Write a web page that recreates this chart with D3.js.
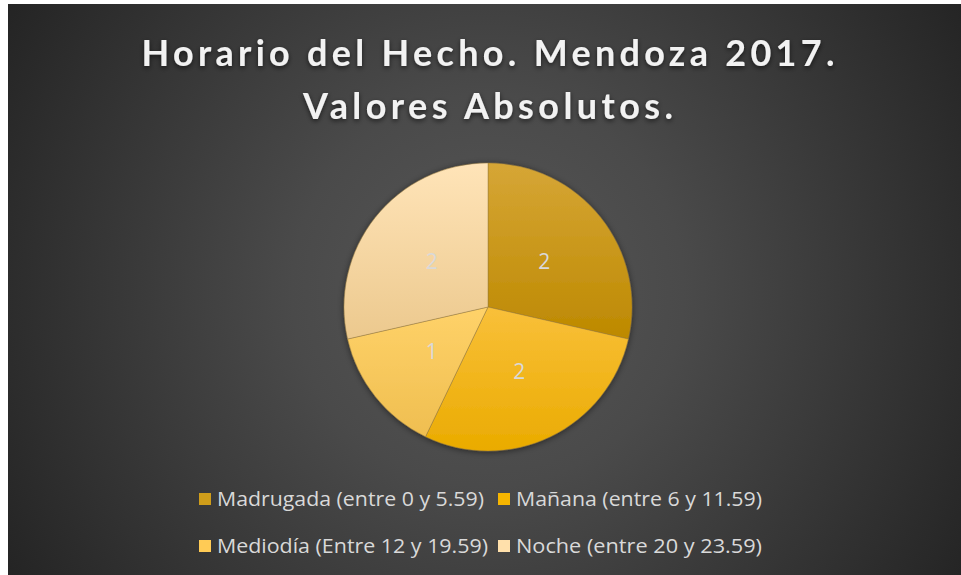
<!DOCTYPE html>
<html>
<head>
<meta charset="utf-8">
<script src="https://cdn.jsdelivr.net/npm/d3@7"></script>
<style>
  html, body { margin: 0; padding: 0; background: #fff; }
  svg { display: block; }
</style>
</head>
<body>
<div id="chart"></div>
<script>
const titleLines = ["Horario del Hecho. Mendoza 2017.", "Valores Absolutos."];
const categories = [
  "Madrugada (entre 0 y 5.59)",
  "Mañana (entre 6 y 11.59)",
  "Mediodía (Entre 12 y 19.59)",
  "Noche (entre 20 y 23.59)"
];
const values = [2, 2, 1, 2];
const colorTop = ["#d6a636", "#f9c03a", "#ffd269", "#ffe4b8"];
const colorBottom = ["#bd8900", "#eaab00", "#efbe50", "#ecc98e"];
const legendColors = ["#cf9d1a", "#f6b500", "#ffcb55", "#ffe0ab"];

(function () {
  const width = 961, height = 575;
  const box = { x: 8, y: 4, w: 953, h: 571 };
  const center = { x: 488, y: 307 };
  const radius = 144;

  const svg = d3.select("#chart").append("svg")
    .attr("width", width)
    .attr("height", height);

  const defs = svg.append("defs");

  const bg = defs.append("radialGradient")
    .attr("id", "bg")
    .attr("gradientUnits", "userSpaceOnUse")
    .attr("cx", 488).attr("cy", 290).attr("r", 560);
  bg.append("stop").attr("offset", "0").attr("stop-color", "#575757");
  bg.append("stop").attr("offset", "0.35").attr("stop-color", "#4a4a4a");
  bg.append("stop").attr("offset", "1").attr("stop-color", "#242424");

  categories.forEach((c, i) => {
    const g = defs.append("linearGradient")
      .attr("id", "slice" + i)
      .attr("x1", 0).attr("y1", 0).attr("x2", 0).attr("y2", 1);
    g.append("stop").attr("offset", "0").attr("stop-color", colorTop[i]);
    g.append("stop").attr("offset", "1").attr("stop-color", colorBottom[i]);
  });

  const shadow = defs.append("filter").attr("id", "shadow")
    .attr("x", "-20%").attr("y", "-20%").attr("width", "140%").attr("height", "140%");
  shadow.append("feDropShadow")
    .attr("dx", 0).attr("dy", 2).attr("stdDeviation", 2.5)
    .attr("flood-color", "#000").attr("flood-opacity", 0.6);

  const pieShadow = defs.append("filter").attr("id", "pieShadow")
    .attr("x", "-20%").attr("y", "-20%").attr("width", "140%").attr("height", "140%");
  pieShadow.append("feDropShadow")
    .attr("dx", 0).attr("dy", 1).attr("stdDeviation", 3)
    .attr("flood-color", "#000").attr("flood-opacity", 0.5);

  svg.append("rect")
    .attr("x", box.x).attr("y", box.y)
    .attr("width", box.w).attr("height", box.h)
    .attr("fill", "url(#bg)");

  // title
  const titleWidths = [693, 370];
  svg.append("g").selectAll("text")
    .data(titleLines)
    .join("text")
    .attr("x", 488)
    .attr("y", (d, i) => 66 + i * 53)
    .attr("text-anchor", "middle")
    .attr("textLength", (d, i) => titleWidths[i])
    .attr("lengthAdjust", "spacing")
    .attr("font-family", "Lato, 'Open Sans', sans-serif")
    .attr("font-weight", "bold")
    .attr("font-size", 36)
    .attr("fill", "#f2f2f2")
    .attr("filter", "url(#shadow)")
    .text(d => d);

  // pie
  const pie = d3.pie().sort(null).value(d => d);
  const arcs = pie(values);
  const arc = d3.arc().innerRadius(0).outerRadius(radius);

  const g = svg.append("g")
    .attr("transform", `translate(${center.x},${center.y})`);

  g.append("g")
    .attr("filter", "url(#pieShadow)")
    .selectAll("path")
    .data(arcs)
    .join("path")
    .attr("d", arc)
    .attr("fill", (d, i) => `url(#slice${i})`)
    .attr("stroke", "rgba(150,120,60,0.6)")
    .attr("stroke-width", 0.75);

  g.selectAll(".slice-label")
    .data(arcs)
    .join("text")
    .attr("class", "slice-label")
    .attr("transform", d => `translate(${arc.centroid(d)})`)
    .attr("text-anchor", "middle")
    .attr("dy", "0.35em")
    .attr("font-family", "'Open Sans', 'DejaVu Sans', sans-serif")
    .attr("font-size", 21)
    .attr("fill", "#d9d9d9")
    .text(d => d.data);

  // legend
  const colX = [199, 498];
  const rowY = [499, 546];
  const textWidths = [267, 246, 271, 246];
  const legend = svg.append("g")
    .selectAll("g")
    .data(categories)
    .join("g")
    .attr("transform", (d, i) => `translate(${colX[i % 2]},${rowY[Math.floor(i / 2)]})`);

  legend.append("rect")
    .attr("x", 0).attr("y", -6)
    .attr("width", 12).attr("height", 12)
    .attr("fill", (d, i) => legendColors[i]);

  legend.append("text")
    .attr("x", 18)
    .attr("y", 7)
    .attr("textLength", (d, i) => textWidths[i])
    .attr("lengthAdjust", "spacingAndGlyphs")
    .attr("font-family", "'Open Sans', 'DejaVu Sans', sans-serif")
    .attr("font-size", 20)
    .attr("fill", "#d9d9d9")
    .text(d => d);
})();
</script>
</body>
</html>
